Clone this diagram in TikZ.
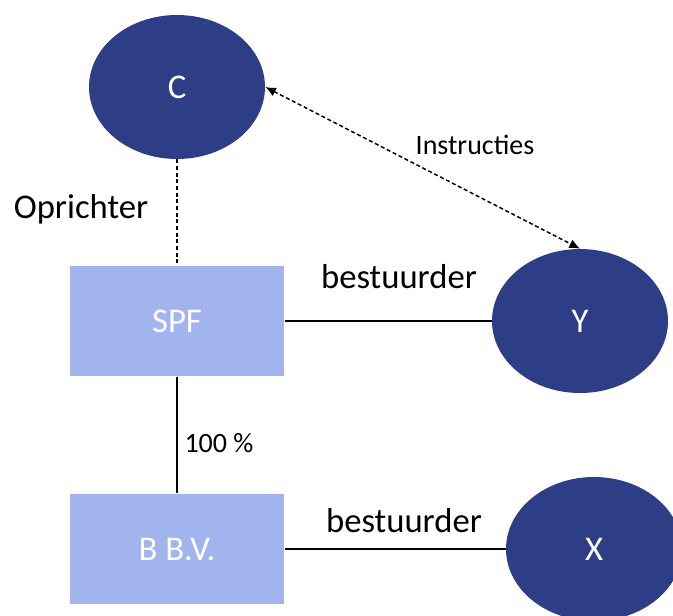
\documentclass[tikz,border=0pt]{standalone}
\usepackage{fontspec}
\setmainfont{Carlito}
\usepackage{xcolor}
\usepackage{tikz}
\usetikzlibrary{shapes.geometric,calc,arrows.meta}

\definecolor{darkblue}{RGB}{45,62,135}
\definecolor{lightblue}{RGB}{161,180,238}

\tikzset{
	person/.style={ellipse,fill=darkblue,text=white,minimum width=132pt,minimum height=108pt,inner sep=0pt,font=\fontsize{26}{30}\selectfont},
	entity/.style={rectangle,fill=lightblue,text=white,minimum width=161pt,minimum height=83pt,inner sep=0pt,font=\fontsize{26}{30}\selectfont},
	biglbl/.style={font=\fontsize{26}{30}\selectfont,inner sep=0pt},
	smalllbl/.style={font=\fontsize{21}{25}\selectfont,inner sep=0pt},
	link/.style={line width=1.1pt}
}

\begin{document}
\begin{tikzpicture}[x=0.75pt,y=-0.75pt]
	\useasboundingbox (0,0) rectangle (673,615);
	
	\node[person] (C) at (177,87) {C};
	\node[person] (Y) at (580,321) {Y};
	\node[person] (X) at (594,549) {X};
	\node[entity] (SPF) at (177,321) {SPF};
	\node[entity] (BBV) at (177,549) {B B.V.};
	
	\node[biglbl] (oprichter) at (81,209) {Oprichter};
	\node[biglbl] (best1) at (399,277) {bestuurder};
	\node[biglbl] (best2) at (404,521) {bestuurder};
	\node[smalllbl] (instr) at (475,145) {Instructies};
	\node[smalllbl] (pct) at (219,443) {100 \%};
	
	\draw[link,dash pattern=on 3pt off 2pt] (C) -- (SPF);
	\draw[link,dash pattern=on 3pt off 2pt,{Latex[length=8pt,width=7pt]}-{Latex[length=8pt,width=7pt]}] (C.east) -- (Y.north);
	\draw[link] (SPF.east) -- (Y.west);
	\draw[link] (SPF) -- (BBV);
	\draw[link] (BBV.east) -- (X.west);
\end{tikzpicture}
\end{document}
